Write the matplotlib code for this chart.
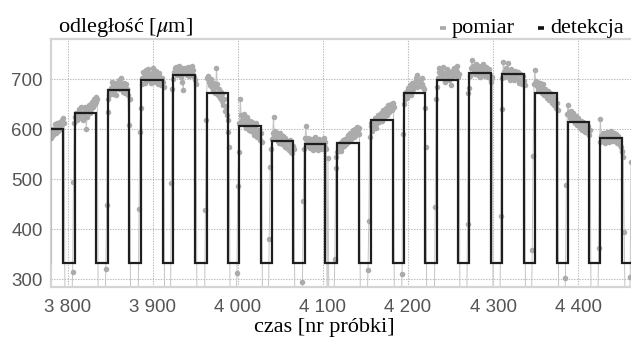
import numpy as np
import matplotlib
matplotlib.use("Agg")
import matplotlib.pyplot as plt
from matplotlib.lines import Line2D

plt.rcParams['mathtext.fontset'] = 'stix'

# ---------------- data ----------------
LOW = 332  # detection low level

seg_start = [3779, 3809, 3848, 3886, 3924, 3964, 4002, 4040, 4079, 4117,
             4156, 4195, 4234, 4272, 4311, 4349, 4388, 4426]
seg_end = [3795, 3834, 3872, 3912, 3950, 3989, 4027, 4065, 4103, 4142,
           4182, 4220, 4259, 4298, 4336, 4375, 4413, 4452]
seg_level = [601, 633, 679, 699, 708, 673, 607, 577, 571, 573,
             619, 673, 699, 712, 711, 673, 615, 583]

# measurement values inside each detected segment (from seg_start-1)
seg_meas = [
    [592, 600, 595, 583, 600, 588, 598, 610, 592, 600, 612, 596, 604, 615, 600, 618, 610, 622, 612],
    [612, 625, 632, 618, 628, 640, 622, 630, 645, 632, 618, 628, 638, 645, 600, 625, 640, 648, 632, 650, 640, 655, 645, 660, 650, 665, 655, 660],
    [635, 660, 668, 678, 682, 695, 670, 688, 675, 692, 668, 682, 690, 698, 680, 692, 702, 685, 675, 692, 683, 672, 690, 680, 668, 608, 660],
    [595, 642, 690, 702, 715, 705, 692, 718, 708, 698, 720, 710, 700, 692, 712, 722, 705, 695, 710, 716, 700, 690, 706, 712, 696, 688, 702, 695, 685],
    [680, 700, 714, 722, 712, 724, 708, 718, 727, 712, 704, 722, 695, 678, 716, 723, 716, 708, 725, 714, 706, 721, 710, 727, 718, 708, 704, 698, 690],
    [619, 702, 706, 694, 688, 700, 686, 684, 678, 692, 672, 684, 722, 690, 668, 680, 662, 674, 656, 670, 648, 660, 636, 646, 628, 618, 595, 565],
    [555, 612, 660, 628, 618, 612, 630, 608, 620, 602, 624, 612, 598, 616, 606, 596, 614, 604, 588, 602, 594, 612, 585, 598, 590, 578, 592, 575],
    [560, 580, 592, 625, 586, 596, 580, 592, 576, 586, 572, 592, 580, 570, 586, 578, 565, 582, 575, 562, 574, 558, 578, 555, 570, 553, 566, 560],
    [560, 582, 607, 576, 566, 582, 572, 562, 580, 570, 558, 576, 566, 584, 562, 574, 558, 580, 568, 563, 576, 560, 572, 582, 564, 574, 560],
    [545, 555, 562, 566, 572, 556, 574, 564, 578, 566, 580, 570, 582, 574, 588, 576, 592, 580, 590, 598, 584, 594, 600, 588, 604, 594, 602, 590],
    [585, 606, 612, 596, 616, 606, 622, 610, 603, 620, 628, 614, 624, 632, 616, 630, 638, 624, 634, 642, 628, 640, 648, 634, 644, 650, 638, 652, 645],
    [590, 650, 660, 668, 674, 662, 682, 672, 688, 668, 678, 692, 680, 690, 694, 702, 684, 709, 688, 697, 686, 700, 690, 702, 684, 680, 642, 565],
    [660, 685, 702, 714, 722, 704, 716, 706, 724, 712, 698, 694, 710, 720, 704, 698, 714, 688, 706, 716, 706, 722, 710, 718, 727, 714, 704, 710],
    [672, 682, 706, 722, 738, 726, 714, 724, 710, 730, 718, 708, 726, 714, 704, 722, 710, 730, 718, 706, 716, 724, 710, 704, 720, 708, 698, 694, 705],
    [641, 702, 735, 714, 704, 722, 710, 732, 716, 706, 698, 720, 708, 702, 714, 698, 716, 706, 700, 714, 698, 692, 710, 698, 690, 706, 696, 688],
    [690, 718, 696, 686, 694, 678, 686, 692, 676, 684, 672, 690, 668, 680, 670, 662, 677, 666, 658, 672, 660, 652, 666, 656, 648, 662, 642, 652, 638],
    [630, 648, 634, 622, 636, 626, 618, 632, 620, 612, 626, 616, 608, 622, 610, 602, 616, 606, 598, 614, 604, 595, 610, 598, 592, 606, 588, 598],
    [575, 620, 586, 576, 592, 580, 572, 590, 578, 594, 584, 575, 592, 580, 597, 584, 576, 592, 580, 590, 578, 572, 586, 576, 568, 564, 556, 555, 545],
]

# measurement values in the gaps (from seg_end+2); 250 = below the visible range
gap_meas = [
    [250, 250, 250, 250, 250, 250, 250, 250, 250, 315, 495],
    [250, 250, 250, 250, 250, 250, 250, 250, 250, 320, 449],
    [250, 250, 250, 250, 250, 250, 250, 250, 250, 250, 440],
    [250, 250, 250, 250, 250, 250, 250, 250, 492],
    [250, 250, 250, 250, 250, 250, 250, 250, 250, 250, 439],
    [250, 250, 250, 250, 250, 250, 250, 250, 312, 487],
    [250, 250, 250, 250, 250, 250, 250, 250, 380, 525],
    [250, 250, 250, 250, 250, 250, 250, 250, 250, 295, 457],
    [250, 542, 250, 250, 250, 250, 250, 250, 250, 340, 523],
    [250, 250, 250, 250, 250, 250, 250, 250, 250, 319, 417],
    [250, 250, 250, 250, 250, 250, 250, 250, 250, 310],
    [250, 250, 250, 250, 250, 250, 250, 250, 250, 250, 444],
    [250, 250, 250, 250, 250, 250, 250, 250, 250, 411],
    [250, 250, 250, 250, 250, 250, 250, 250, 250, 427],
    [250, 250, 250, 250, 250, 250, 250, 250, 359, 547],
    [250, 250, 250, 250, 250, 250, 250, 250, 302, 489],
    [250, 250, 250, 250, 250, 250, 250, 250, 250, 362],
    [395, 250, 250, 250, 250, 250, 250, 305, 534],
]

x_ticks = [3800, 3900, 4000, 4100, 4200, 4300, 4400]
x_ticklabels = ["3 800", "3 900", "4 000", "4 100", "4 200", "4 300", "4 400"]
y_ticks = [300, 400, 500, 600, 700]

# ---------------- build series ----------------
mx, my = [], []
for i in range(len(seg_start)):
    v = seg_meas[i]
    mx.extend(range(seg_start[i] - 1, seg_start[i] - 1 + len(v)))
    my.extend(v)
    g = gap_meas[i]
    mx.extend(range(seg_end[i] + 2, seg_end[i] + 2 + len(g)))
    my.extend(g)
mx = np.array(mx); my = np.array(my)

dx, dy = [], []
for s, e, lv in zip(seg_start, seg_end, seg_level):
    dx += [s, s, e, e]
    dy += [LOW, lv, lv, LOW]
dx.append(4480); dy.append(LOW)

# ---------------- figure ----------------
W, H = 631, 340
fig = plt.figure(figsize=(W / 100, H / 100), dpi=100)
L, R, T, B = 50.5, 631, 39.3, 286.7
ax = fig.add_axes([L / W, 1 - B / H, (R - L) / W, (B - T) / H])

ax.plot(mx, my, color='#c4c4c4', lw=0.7, zorder=2)
ax.plot(mx, my, ls='none', marker='o', ms=4.0, mfc='#ababab', mec='#ababab',
        mew=0, zorder=3)
ax.plot(dx, dy, color='#1e1e1e', lw=1.6, zorder=4, solid_joinstyle='miter')

ax.set_xlim(3780, 4462)
ax.set_ylim(285, 780)
ax.set_xticks(x_ticks)
ax.set_xticklabels(x_ticklabels)
ax.set_yticks(y_ticks)
ax.grid(True, color='#b8b8b8', ls=(0, (1.2, 1.2)), lw=0.8, zorder=0)
ax.set_axisbelow(True)
ax.tick_params(length=0, labelsize=13.5, labelcolor='#555555')
ax.tick_params(axis='x', pad=8.5)
ax.tick_params(axis='y', pad=5.5)
for lab in ax.get_xticklabels() + ax.get_yticklabels():
    lab.set_family('Liberation Sans')
for side in ['left', 'bottom', 'top']:
    ax.spines[side].set_color('#d4d4d4')
    ax.spines[side].set_linewidth(1.6)
ax.spines['right'].set_visible(False)

serif = 'Liberation Serif'
fig.text(58 / W, 1 - 31.7 / H, r'odległość [$\mu$m]', family=serif, fontsize=16,
         va='baseline', ha='left')
fig.text(324 / W, 1 - 332 / H, 'czas [nr próbki]', family=serif, fontsize=16,
         va='baseline', ha='center')

# legend
fig.add_artist(Line2D([440 / W, 446 / W], [1 - 28.3 / H] * 2, color='#a9a9a9',
                      lw=2.6, solid_capstyle='butt', transform=fig.transFigure))
fig.text(452 / W, 1 - 33.3 / H, 'pomiar', family=serif, fontsize=16,
         va='baseline', ha='left')
fig.add_artist(Line2D([537.5 / W, 543.5 / W], [1 - 28.3 / H] * 2, color='#111111',
                      lw=2.6, solid_capstyle='butt', transform=fig.transFigure))
fig.text(550 / W, 1 - 33.3 / H, 'detekcja', family=serif, fontsize=16,
         va='baseline', ha='left')

fig.savefig('out.png', dpi=100)
